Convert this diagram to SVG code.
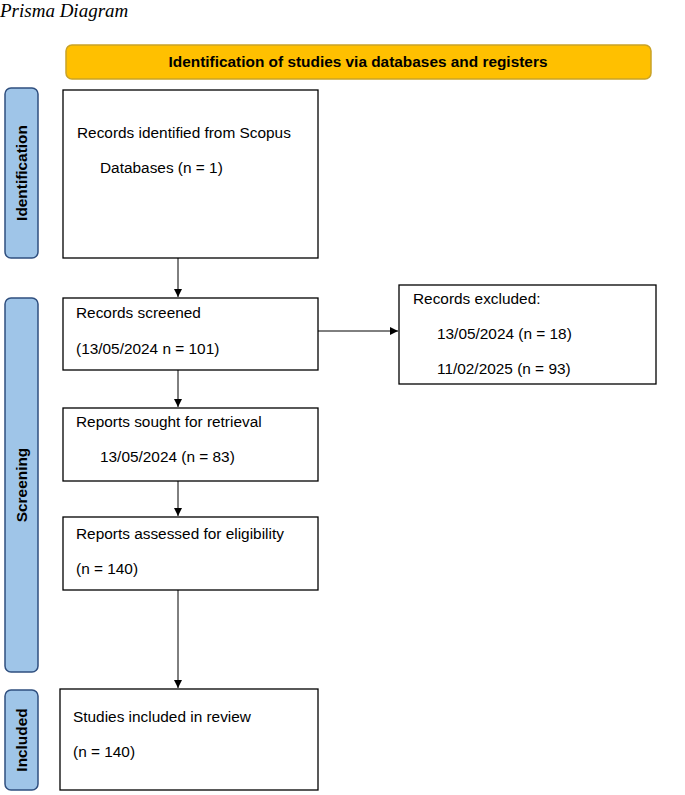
<svg xmlns="http://www.w3.org/2000/svg" width="685" height="795" viewBox="0 0 685 795">
<defs>
<marker id="ah" viewBox="0 0 10 10" refX="10" refY="5" markerWidth="8" markerHeight="8" orient="auto"><path d="M0,0 L10,5 L0,10 z" fill="#000"/></marker>
<style>
.box{fill:#fff;stroke:#000;stroke-width:1.3}
.side{fill:#9FC5E8;stroke:#2F4F7F;stroke-width:1.5}
.t{font-family:"Liberation Sans",Arial,sans-serif;font-size:15.4px;fill:#000}
.st{font-family:"Liberation Sans",Arial,sans-serif;font-size:15.4px;font-weight:bold;fill:#000}
.c{stroke:#000;stroke-width:1;fill:none;marker-end:url(#ah)}
</style>
</defs>
<rect width="685" height="795" fill="#fff"/>
<text x="0" y="17" font-family="Liberation Serif,serif" font-style="italic" font-size="19">Prisma Diagram</text>
<g id="banner"><rect x="66" y="45" width="585" height="34" rx="6" fill="#FFC000" stroke="#C9A227" stroke-width="1.5"/><text class="st" x="358" y="67" text-anchor="middle">Identification of studies via databases and registers</text></g>
<g id="lbl-identification"><rect class="side" x="5" y="88" width="33" height="170" rx="6"/><text class="st" transform="translate(27,173) rotate(-90)" text-anchor="middle">Identification</text></g>
<g id="lbl-screening"><rect class="side" x="5" y="298" width="33" height="374" rx="6"/><text class="st" transform="translate(27,485) rotate(-90)" text-anchor="middle">Screening</text></g>
<g id="lbl-included"><rect class="side" x="5" y="690" width="33" height="100" rx="6"/><text class="st" transform="translate(27,740) rotate(-90)" text-anchor="middle">Included</text></g>
<g id="identified"><rect class="box" x="63" y="90" width="255" height="168"/><text class="t" x="77" y="138">Records identified from Scopus</text><text class="t" x="100" y="173">Databases (n = 1)</text></g>
<g id="screened"><rect class="box" x="63" y="298" width="255" height="72"/><text class="t" x="76" y="318">Records screened</text><text class="t" x="76" y="354">(13/05/2024 n = 101)</text></g>
<g id="excluded"><rect class="box" x="399" y="285" width="257" height="99"/><text class="t" x="413" y="304">Records excluded:</text><text class="t" x="437" y="339">13/05/2024 (n = 18)</text><text class="t" x="437" y="374">11/02/2025 (n = 93)</text></g>
<g id="sought"><rect class="box" x="63" y="408" width="255" height="73"/><text class="t" x="76" y="427">Reports sought for retrieval</text><text class="t" x="100" y="462">13/05/2024 (n = 83)</text></g>
<g id="assessed"><rect class="box" x="63" y="517" width="255" height="73"/><text class="t" x="76" y="539">Reports assessed for eligibility</text><text class="t" x="76" y="574">(n = 140)</text></g>
<g id="included"><rect class="box" x="60" y="689" width="258" height="101"/><text class="t" x="73" y="722">Studies included in review</text><text class="t" x="73" y="757">(n = 140)</text></g>
<g id="connectors">
<line class="c" x1="178" y1="258" x2="178" y2="297"/>
<line class="c" x1="318" y1="331" x2="398" y2="331"/>
<line class="c" x1="178" y1="370" x2="178" y2="407"/>
<line class="c" x1="178" y1="481" x2="178" y2="516"/>
<line class="c" x1="178" y1="590" x2="178" y2="688"/>
</g>
</svg>
